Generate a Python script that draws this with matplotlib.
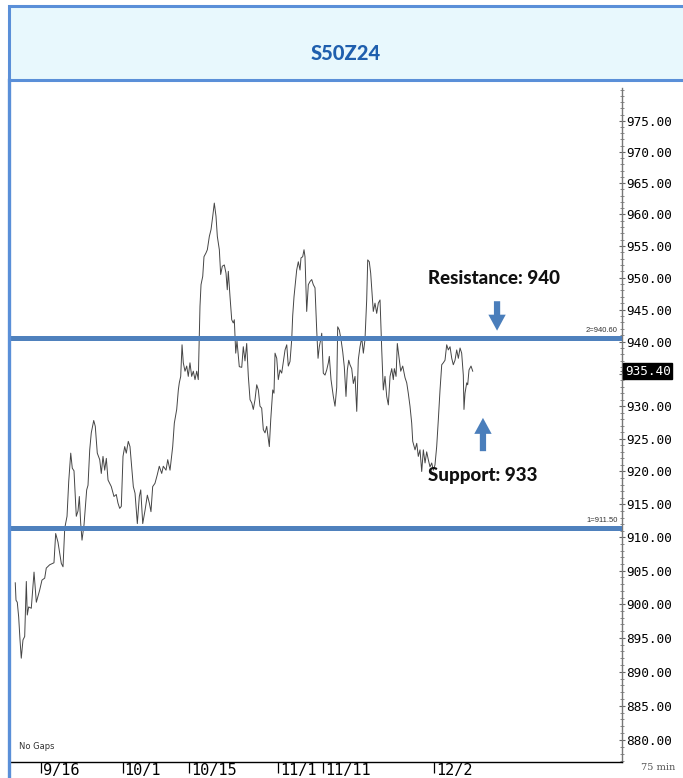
import numpy as np
import matplotlib
matplotlib.use('Agg')
import matplotlib.pyplot as plt
from matplotlib.patches import Rectangle
from matplotlib.lines import Line2D
from matplotlib.ticker import FixedLocator, FuncFormatter, NullFormatter

# ---------------- data ----------------
title = 'S50Z24'

# trading days counted from 9/16 (75-min bars, no gaps)
trading_day = [
    -3.47, -3.37, -3.20, -3.01, -2.83, -2.66, -2.43, -2.20, -1.98, -1.85, -1.66, -1.31, -0.94, -0.63, -0.18,
    0.13, 0.50, 0.71, 1.17, 1.75, 1.98, 2.29, 2.74, 2.97, 3.20, 3.51, 3.74, 4.01, 4.22, 4.45,
    4.76, 4.99, 5.17, 5.35, 5.53, 5.80, 6.16, 6.34, 6.57, 6.78, 7.11, 7.32, 7.59, 7.92, 8.13,
    8.36, 8.59, 8.81, 9.04, 9.48, 9.84, 10.15, 10.38, 10.61, 10.83,
    11.06, 11.29, 11.50, 11.77, 12.00, 12.45, 12.68, 12.99, 13.26, 13.45, 13.72, 14.03, 14.34, 14.61, 14.83,
    15.06, 15.37, 15.68, 15.95, 16.28, 16.49, 16.86, 17.09, 17.40, 17.76, 17.98, 18.30, 18.52, 18.65, 18.84,
    19.02, 19.19, 19.42, 19.65, 19.86, 20.09, 20.32, 20.54, 20.77, 21.00, 21.21, 21.35, 21.44, 21.58, 21.81,
    21.98, 22.25, 22.43, 22.70, 22.93, 23.16, 23.37, 23.60, 23.78, 24.05, 24.23, 24.45, 24.72, 24.95, 25.12,
    25.26, 25.49, 25.72, 25.93, 26.07, 26.26, 26.43, 26.74, 27.07, 27.28, 27.51, 27.74, 27.96, 28.19, 28.42,
    28.63, 28.86, 29.09, 29.31, 29.53, 29.76, 29.98, 30.21, 30.44, 30.79, 30.98, 31.25, 31.42, 31.56, 31.79,
    32.00, 32.23, 32.46, 32.68, 32.91, 33.14, 33.35, 33.58, 33.81, 33.94, 34.12, 34.35, 34.48, 34.70, 34.93,
    35.06, 35.29, 35.47, 35.60, 35.83, 36.05, 36.28, 36.51, 36.72, 36.95, 37.18, 37.36, 37.53, 37.72, 37.86,
    38.07, 38.30, 38.53, 38.75, 38.88, 39.11, 39.42, 39.65, 39.88, 40.01, 40.23, 40.46, 40.69, 40.90, 41.13,
    41.31, 41.50, 41.67, 41.90, 42.12, 42.35, 42.58, 42.79, 43.02, 43.25, 43.47, 43.69, 43.92, 44.06, 44.27,
    44.46, 44.64, 44.81, 45.04, 45.27, 45.49, 45.72, 45.95, 46.16, 46.39, 46.62, 46.84, 47.07, 47.30, 47.51,
    47.65, 47.88, 48.05, 48.32, 48.51, 48.78, 49.09, 49.32, 49.53, 49.76, 49.99, 50.13, 50.44, 50.67, 50.88,
    51.11, 51.34, 51.56, 51.79, 52.01, 52.23, 52.46, 52.69, 52.91, 53.13, 53.36, 53.58, 53.81, 54.04, 54.25,
    54.48, 54.71, 54.93, 55.16, 55.39, 55.60, 55.83, 56.06, 56.28, 56.51, 56.73, 56.95, 57.04, 57.18, 57.41,
    57.54, 57.72, 57.99, 58.22,
]

price = [
    903.2, 900.6, 900.3, 898.1, 894.7, 892.0, 894.7, 895.2, 903.4, 898.4, 899.6, 899.4, 904.8, 900.3, 902.1,
    903.6, 903.9, 905.4, 905.9, 906.2, 910.6, 909.3, 906.1, 905.6, 911.4, 913.2, 918.5, 922.8, 920.5, 920.1,
    913.2, 914.0, 916.2, 912.2, 909.6, 911.9, 917.2, 917.9, 923.3, 925.9, 927.8, 926.9, 922.8, 921.8, 919.7,
    922.3, 920.2, 922.0, 918.7, 917.7, 916.2, 916.5, 915.2, 914.4, 914.7,
    922.3, 923.8, 922.8, 924.6, 923.8, 917.7, 916.7, 912.1, 916.2, 917.2, 912.1, 914.1, 916.4, 915.2, 913.9,
    917.7, 918.2, 919.5, 920.8, 919.7, 920.8, 920.2, 921.8, 920.2, 923.8, 927.4, 929.5, 932.5, 933.6, 934.6,
    939.5, 936.7, 935.4, 936.2, 934.6, 936.7, 934.6, 935.4, 934.1, 935.4, 934.1, 940.8, 945.5, 948.9, 950.2,
    953.3, 953.9, 954.4, 956.5, 957.6, 959.7, 961.8, 959.7, 956.5, 954.4, 950.5, 951.8, 952.0, 950.7, 948.1,
    951.0, 947.0, 943.4, 942.9, 943.4, 938.2, 940.1, 936.1, 936.0, 939.2, 937.0, 939.7, 934.6, 931.0, 930.5,
    929.5, 931.0, 933.3, 932.5, 930.0, 929.7, 926.4, 925.9, 926.9, 923.8, 927.9, 932.5, 932.0, 938.2, 937.4,
    934.1, 935.6, 935.1, 936.9, 938.7, 939.5, 936.2, 936.9, 940.3, 944.0, 947.0, 949.7, 951.2, 952.5, 951.2,
    953.1, 953.3, 954.4, 953.3, 944.7, 948.9, 949.4, 949.7, 948.9, 948.4, 941.8, 937.4, 939.2, 940.3, 941.3,
    935.1, 934.8, 935.6, 936.7, 937.7, 934.1, 931.5, 930.0, 932.9, 942.3, 941.8, 940.3, 938.4, 936.1, 931.5,
    935.6, 937.1, 936.4, 935.8, 933.5, 934.6, 929.2, 937.2, 939.2, 940.6, 938.2, 940.3, 946.5, 952.8, 952.5,
    950.7, 947.5, 944.7, 946.0, 944.4, 946.0, 946.5, 938.7, 932.5, 934.6, 931.5, 930.2, 934.6, 935.8, 934.1,
    935.8, 934.6, 939.7, 937.1, 935.4, 936.2, 934.4, 933.6, 932.0, 930.0, 927.4, 924.6, 923.3, 924.3, 922.3,
    923.3, 920.0, 923.3, 921.3, 923.0, 921.8, 920.7, 921.3, 920.2, 921.0, 923.8, 927.9, 932.5, 936.4, 936.7,
    937.1, 939.5, 938.7, 939.2, 937.4, 936.4, 937.1, 938.7, 937.4, 939.0, 938.2, 934.8, 929.5, 932.0, 933.6,
    933.3, 935.6, 936.2, 935.4,
]
assert len(trading_day) == len(price)

resistance_level = 940.60
support_level = 911.50
last_price = 935.40
level_labels = ['2=940.60', '1=911.50']

date_labels = ['9/16', '10/1', '10/15', '11/1', '11/11', '12/2']
date_days = [0, 11, 20, 32, 38, 53]

ytick_values = list(range(880, 980, 5))
yminor_values = list(range(877, 981))

resistance_text = 'Resistance: 940'
support_text = 'Support: 933'
resistance_note_pos = (52.2, 949.8)
support_note_pos = (52.2, 919.4)
resistance_arrow = (61.5, 946.3, 941.7)   # x, tail, tip
support_arrow = (59.6, 923.1, 928.2)

x_range = (-4.18, 78.35)
y_range = (876.8, 980.3)

# ---------------- layout ----------------
W, H = 683, 778
fig = plt.figure(figsize=(W / 100, H / 100), dpi=100)
fig.patch.set_facecolor('white')


def fx(px):
    return px / W


def fy(py):
    return 1 - py / H


FRAME_BLUE = '#5A8FD8'
LEVEL_BLUE = '#4F81BD'
ARROW_BLUE = '#4A7EBB'

# header band
hdr = Rectangle((fx(9), fy(80)), 1.2 - fx(9), fy(6) - fy(80), transform=fig.transFigure,
                facecolor='#E8F8FD', edgecolor=FRAME_BLUE, lw=2.2, clip_on=False, zorder=0)
fig.patches.append(hdr)
fig.text(fx(346), fy(53), title, ha='center', va='center', fontsize=14.5,
         fontweight='black', color='#1F5FAE', family='Lato')
# left frame border
fig.add_artist(Line2D([fx(9), fx(9)], [fy(80), -0.01], color=FRAME_BLUE, lw=2.4))

ax = fig.add_axes([fx(10), fy(762), fx(622) - fx(10), fy(88) - fy(762)])
ax.set_facecolor('none')
ax.set_yscale('log')
ax.plot(trading_day, price, color='#454545', lw=0.7, zorder=2)

ax.axhline(resistance_level, color=LEVEL_BLUE, lw=3.6, zorder=3)
ax.axhline(support_level, color=LEVEL_BLUE, lw=3.6, zorder=3)

ax.set_xlim(*x_range)
ax.set_ylim(*y_range)

# y axis on right
ax.yaxis.tick_right()
ax.yaxis.set_major_locator(FixedLocator(ytick_values))
ax.yaxis.set_minor_locator(FixedLocator(yminor_values))
ax.yaxis.set_major_formatter(FuncFormatter(lambda v, p: '' if abs(v - last_price) < 1 else f'{v:.2f}'))
ax.yaxis.set_minor_formatter(NullFormatter())
ax.tick_params(axis='y', which='major', direction='inout', length=5, width=0.8, color='#666',
               pad=0.5, labelsize=9.2, labelcolor='black')
ax.tick_params(axis='y', which='minor', direction='inout', length=2.5, width=0.6, color='#777')
for lbl in ax.get_yticklabels():
    lbl.set_family('DejaVu Sans Mono')

# x axis
ax.set_xticks(date_days)
ax.set_xticklabels([])
ax.xaxis.set_minor_locator(FixedLocator([]))
ax.tick_params(axis='x', which='major', direction='out', length=8, width=0.9, color='black')
for d, lab in zip(date_days, date_labels):
    ax.annotate(lab, xy=(d, 0), xycoords=('data', 'axes fraction'), xytext=(1.5, -1),
                textcoords='offset points', ha='left', va='top', fontsize=11,
                family='DejaVu Sans Mono', color='black', annotation_clip=False)

for s in ['top', 'left']:
    ax.spines[s].set_visible(False)
ax.spines['right'].set_color('#777')
ax.spines['right'].set_linewidth(1.0)
ax.spines['bottom'].set_color('black')
ax.spines['bottom'].set_linewidth(1.0)

# level labels
for lvl, txt in zip([resistance_level, support_level], level_labels):
    ax.annotate(txt, xy=(1, lvl), xycoords=('axes fraction', 'data'), xytext=(-3, 2.5),
                textcoords='offset points', ha='right', va='bottom', fontsize=5.5,
                color='#333', family='Liberation Sans')

# last price box
ax.annotate(f'{last_price:.2f}', xy=(1, last_price), xycoords=('axes fraction', 'data'),
            xytext=(2.0, 0), textcoords='offset points', ha='left', va='center', fontsize=9.2,
            family='DejaVu Sans Mono', color='white', zorder=10, annotation_clip=False,
            bbox=dict(boxstyle='square,pad=0.12', facecolor='black', edgecolor='black'))
ax.plot([1], [last_price], transform=ax.get_yaxis_transform(), marker='+', ms=3,
        mew=0.6, color='#555', clip_on=False, zorder=9)

# annotations
ax.text(*resistance_note_pos, resistance_text, ha='left', va='center', fontsize=13.5,
        fontweight='black', color='#111', family='Lato', zorder=6)
ax.text(*support_note_pos, support_text, ha='left', va='center', fontsize=13.5,
        fontweight='black', color='#111', family='Lato', zorder=6)

arrow_style = 'simple,head_length=1.15,head_width=1.25,tail_width=0.45'
for xa, tail, tip in [resistance_arrow, support_arrow]:
    ax.annotate('', xy=(xa, tip), xytext=(xa, tail), xycoords='data',
                arrowprops=dict(arrowstyle=arrow_style, color=ARROW_BLUE, mutation_scale=10,
                                shrinkA=0, shrinkB=0, lw=0), zorder=6)

ax.text(0.015, 0.016, 'No Gaps', transform=ax.transAxes, fontsize=6, color='#333',
        family='DejaVu Sans', ha='left', va='bottom')
fig.text(fx(641), fy(767), '75 min', fontsize=7, color='#555', family='DejaVu Serif',
         ha='left', va='center')

fig.savefig('out.png', dpi=100, facecolor='white')
